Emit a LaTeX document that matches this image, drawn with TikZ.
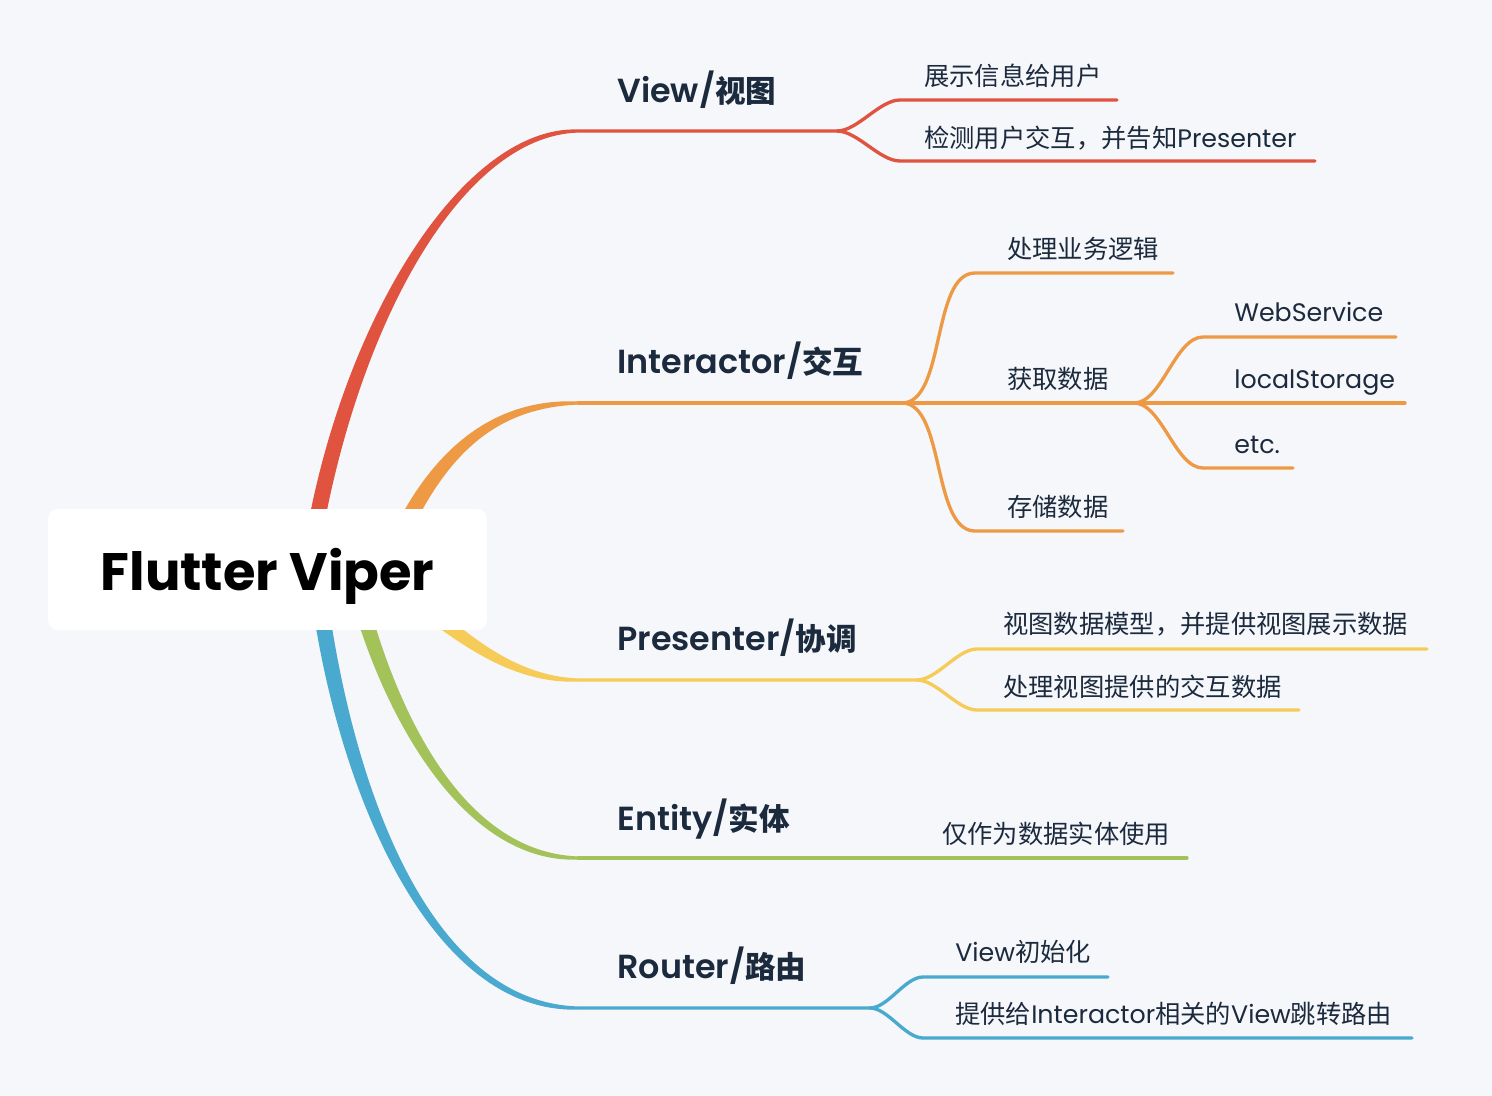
\documentclass[tikz,border=0pt]{standalone}
\usepackage{fontspec}
\setmainfont{Poppins}
\newfontfamily\cjk{Noto Sans CJK SC}
\newfontfamily\semib{Poppins SemiBold}
\usetikzlibrary{positioning}

\definecolor{bg}{HTML}{F5F7FB}
\definecolor{ink}{HTML}{1C2A3D}
\definecolor{cred}{HTML}{E0533F}
\definecolor{corange}{HTML}{EE9A45}
\definecolor{cyellow}{HTML}{F6CB57}
\definecolor{cgreen}{HTML}{A3C25A}
\definecolor{cblue}{HTML}{4AA9CE}

\newcommand\tzh[1]{{\cjk\bfseries\fontsize{17.4}{20}\selectfont #1}}
\newcommand\zh[1]{{\cjk #1}}

\begin{document}
\begin{tikzpicture}
	[x=0.02cm,y=-0.02cm,
	root node/.style={fill=white,rounded corners=0.2cm,minimum width=8.78cm,minimum height=2.42cm,inner sep=0,text depth=0pt,font=\fontsize{30}{34}\selectfont\bfseries},
	topic node/.style={anchor=base west,inner sep=0,text=ink,font=\fontsize{19}{23}\selectfont\semib},
	leaf node/.style={anchor=base west,inner sep=0,text=ink,font=\fontsize{14.4}{18}\selectfont},
	branch/.style={line width=1.9pt,line cap=round},
	fork/.style={out=0,in=180,looseness=0.75}]
	
	\fill[bg] (0,0) rectangle (1492,1096);
	\useasboundingbox (0,0) rectangle (1492,1096);
	
	% thick stems out of the root
	\fill[cred] (302,560) .. controls (336,330) and (460,126) .. (578,129.4) -- (578,132.6) .. controls (460,136) and (354,330) .. (318,560) -- cycle;
	\fill[corange] (377.6,567) .. controls (416.6,466.7) and (480,397.5) .. (578,401.4) -- (578,404.6) .. controls (480,408.5) and (433.4,473.3) .. (392.4,573) -- cycle;
	\fill[cyellow] (404.4,583.4) .. controls (449.4,613.4) and (500,675.5) .. (578,678.4) -- (578,681.6) .. controls (500,684.5) and (440.6,626.6) .. (395.6,596.6) -- cycle;
	\fill[cgreen] (342,560) .. controls (366,680) and (450,864) .. (578,859.6) -- (578,856.4) .. controls (450,852) and (384,680) .. (358,560) -- cycle;
	\fill[cblue] (307,560) .. controls (326,760) and (420,1014) .. (578,1009.6) -- (578,1006.4) .. controls (420,1002) and (344,760) .. (323,560) -- cycle;
	
	\node [root node] (root) at (267.5,569.5) {Flutter Viper};
	
	% View
	\node [topic node] (view) at (617,102) {View/\tzh{视图}};
	\node [leaf node] (view1) at (924,85) {\zh{展示信息给用户}};
	\node [leaf node] (view2) at (924,147) {\zh{检测用户交互，并告知}Presenter};
	\coordinate (v) at (578,131);
	\coordinate (vf) at (837,131);
	\coordinate (v1) at (900,100);
	\coordinate (v1e) at (1117,100);
	\coordinate (v2) at (900,161);
	\coordinate (v2e) at (1315,161);
	\draw[branch,cred] (v) -- (vf) to[fork] (v1) -- (v1e);
	\draw[branch,cred] (vf) to[fork] (v2) -- (v2e);
	
	% Interactor
	\node [topic node] (inter) at (617,373) {Interactor/\tzh{交互}};
	\node [leaf node] (inter1) at (1007,258) {\zh{处理业务逻辑}};
	\node [leaf node] (inter2) at (1007,388) {\zh{获取数据}};
	\node [leaf node] (inter3) at (1007,516) {\zh{存储数据}};
	\node [leaf node] (data1) at (1234,321) {WebService};
	\node [leaf node] (data2) at (1234,388) {localStorage};
	\node [leaf node] (data3) at (1234,453) {etc.};
	\coordinate (i) at (578,403);
	\coordinate (if) at (902,403);
	\coordinate (i1) at (975,273);
	\coordinate (i1e) at (1173,273);
	\coordinate (i3) at (975,531);
	\coordinate (i3e) at (1123,531);
	\coordinate (df) at (1134,403);
	\coordinate (d1) at (1203,337);
	\coordinate (d1e) at (1396,337);
	\coordinate (d2e) at (1405,403);
	\coordinate (d3) at (1203,468);
	\coordinate (d3e) at (1293,468);
	\draw[branch,corange] (i) -- (if) -- (df) -- (d2e);
	\draw[branch,corange] (if) to[fork] (i1) -- (i1e);
	\draw[branch,corange] (if) to[fork] (i3) -- (i3e);
	\draw[branch,corange] (df) to[fork] (d1) -- (d1e);
	\draw[branch,corange] (df) to[fork] (d3) -- (d3e);
	
	% Presenter
	\node [topic node] (pres) at (617,650) {Presenter/\tzh{协调}};
	\node [leaf node] (pres1) at (1003,633) {\zh{视图数据模型，并提供视图展示数据}};
	\node [leaf node] (pres2) at (1003,696) {\zh{处理视图提供的交互数据}};
	\coordinate (p) at (578,680);
	\coordinate (pf) at (917,680);
	\coordinate (p1) at (977,649);
	\coordinate (p1e) at (1427,649);
	\coordinate (p2) at (977,710);
	\coordinate (p2e) at (1299,710);
	\draw[branch,cyellow] (p) -- (pf) to[fork] (p1) -- (p1e);
	\draw[branch,cyellow] (pf) to[fork] (p2) -- (p2e);
	
	% Entity
	\node [topic node] (ent) at (617,830) {Entity/\tzh{实体}};
	\node [leaf node] (ent1) at (942,843) {\zh{仅作为数据实体使用}};
	\coordinate (e) at (578,858);
	\coordinate (e1e) at (1187,858);
	\draw[branch,cgreen] (e) -- (e1e);
	
	% Router
	\node [topic node] (rout) at (617,978) {Router/\tzh{路由}};
	\node [leaf node] (rout1) at (955,961) {View\zh{初始化}};
	\node [leaf node] (rout2) at (955,1023) {\zh{提供给}Interactor\zh{相关的}View\zh{跳转路由}};
	\coordinate (r) at (578,1008);
	\coordinate (rf) at (870,1008);
	\coordinate (r1) at (923,977);
	\coordinate (r1e) at (1108,977);
	\coordinate (r2) at (923,1038);
	\coordinate (r2e) at (1412,1038);
	\draw[branch,cblue] (r) -- (rf) to[fork] (r1) -- (r1e);
	\draw[branch,cblue] (rf) to[fork] (r2) -- (r2e);
	
\end{tikzpicture}
\end{document}
